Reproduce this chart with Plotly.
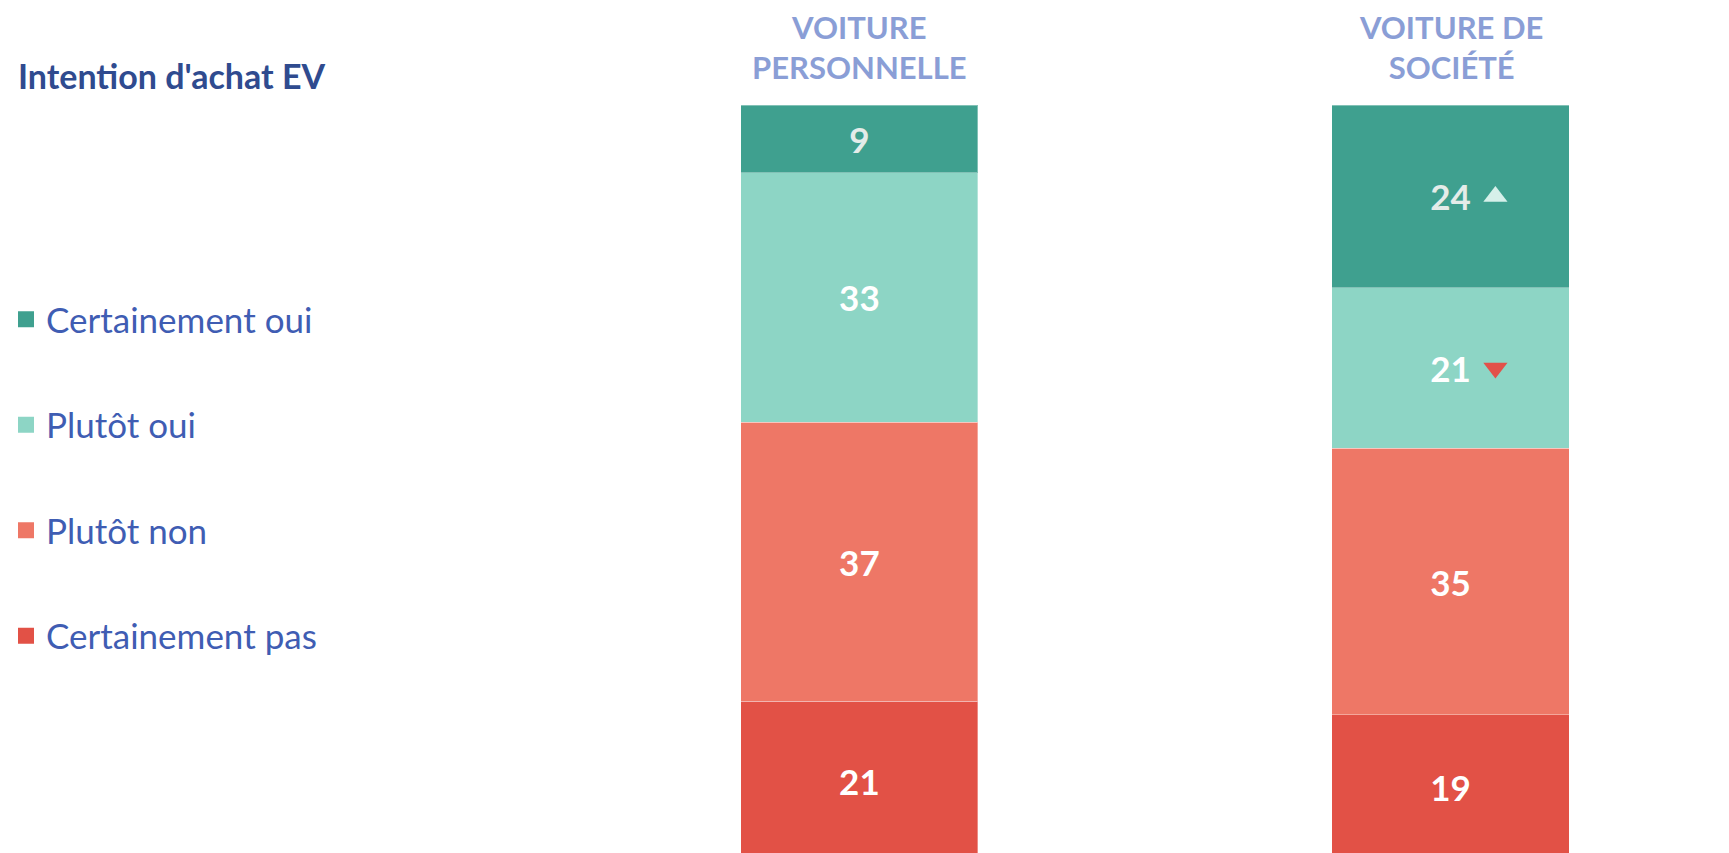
import plotly.graph_objects as go

# ---- data ----
categories = ["VOITURE<br>PERSONNELLE", "VOITURE DE<br>SOCIÉTÉ"]
series_names = ["Certainement oui", "Plutôt oui", "Plutôt non", "Certainement pas"]
voiture_personnelle = [9, 33, 37, 21]
voiture_societe = [24, 21, 35, 19]
trend_societe = ["up", "down", None, None]
title_text = "Intention d'achat EV"

# ---- style ----
colors = ["#3FA08F", "#8DD5C5", "#EE7766", "#E25146"]
label_colors = ["#E4ECE9", "#FFFFFF", "#FFFFFF", "#FFFFFF"]
trend_colors = {"up": "#D6F0EA", "down": "#E2514A"}
trend_symbols = {"up": "triangle-up", "down": "triangle-down"}
FONT = "Lato"

W, H = 1729, 853
TOP, BOTTOM = 105, 0
x_pos = list(range(len(categories)))

fig = go.Figure()

# stack bottom-up: reverse the legend order
for i in reversed(range(len(series_names))):
    vals = [voiture_personnelle[i], voiture_societe[i]]
    fig.add_trace(go.Bar(
        x=x_pos, y=vals, name=series_names[i],
        marker=dict(color=colors[i], line=dict(color="rgba(255,255,255,0.35)", width=1)),
        text=[str(v) for v in vals], texttemplate="%{text}",
        textposition="inside", insidetextanchor="middle", textangle=0,
        insidetextfont=dict(family=FONT, size=35, color=label_colors[i], weight="bold"),
        width=0.401, showlegend=False, hoverinfo="skip",
    ))

# trend markers for the second bar, positioned from the normalised stack
total_soc = sum(voiture_societe)
tx, ty, tsym, tcol = [], [], [], []
for i, t in enumerate(trend_societe):
    if t is None:
        continue
    below = sum(voiture_societe[i + 1:])
    mid = (below + voiture_societe[i] / 2) / total_soc * 100
    tx.append(x_pos[1] + 0.076)
    ty.append(mid)
    tsym.append(trend_symbols[t])
    tcol.append(trend_colors[t])
fig.add_trace(go.Scatter(
    x=tx, y=ty, mode="markers",
    marker=dict(symbol=tsym, color=tcol, size=21, line=dict(width=0)),
    showlegend=False, hoverinfo="skip",
))

# legend entries (top to bottom)
for i, name in enumerate(series_names):
    fig.add_trace(go.Scatter(
        x=[None], y=[None], mode="markers", name=name,
        marker=dict(symbol="square", size=16, color=colors[i]),
        legendgroup=name, showlegend=True,
    ))

# category headers
for xp, cat in zip(x_pos, categories):
    fig.add_annotation(
        x=xp, xref="x", y=(H - 47) / (H - TOP), yref="paper",
        text=cat, showarrow=False, xanchor="center", yanchor="middle",
        font=dict(family=FONT, size=31, color="#8A9ED6", weight="bold"),
        align="center",
    )

fig.add_annotation(
    x=16 / W, xref="paper", y=(H - 76) / (H - TOP), yref="paper",
    text=title_text, showarrow=False, xanchor="left", yanchor="middle",
    font=dict(family=FONT, size=34, color="#2F4B8F", weight="bold"),
)

unit = 591.1
x0 = -859.4 / unit
x1 = x0 + W / unit

fig.update_layout(
    width=W, height=H,
    margin=dict(l=0, r=0, t=TOP, b=BOTTOM),
    barmode="stack", barnorm="percent",
    paper_bgcolor="white", plot_bgcolor="white",
    xaxis=dict(range=[x0, x1], visible=False, fixedrange=True),
    yaxis=dict(range=[0.9, 100], visible=False, fixedrange=True),
    legend=dict(
        x=6 / W, xanchor="left", y=(H - 290) / (H - TOP), yanchor="top",
        font=dict(family=FONT, size=35, color="#3F5DB3"),
        tracegroupgap=57, itemwidth=30, bgcolor="rgba(0,0,0,0)",
        traceorder="grouped",
    ),
    font=dict(family=FONT),
)

fig.write_html(
    "out.html",
    config={"displayModeBar": False},
    post_script="document.body.style.margin='0';document.body.style.overflow='hidden';",
)
